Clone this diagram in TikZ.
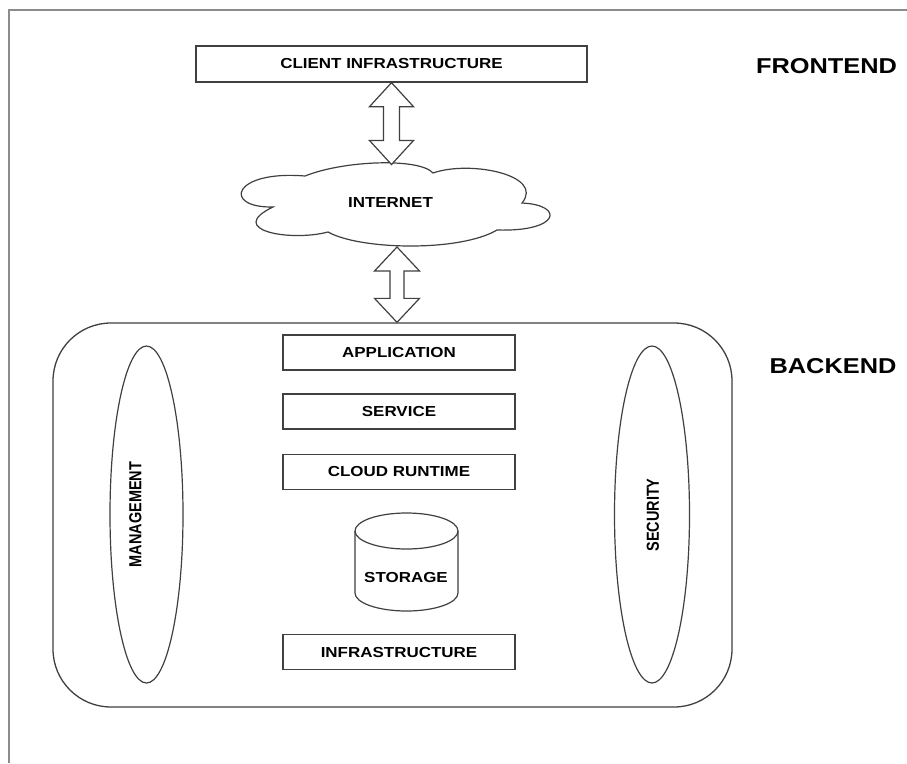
\documentclass[tikz,border=0pt]{standalone}
\usepackage{fontspec}
\usepackage{graphicx}
\setmainfont{Liberation Sans}
\newfontfamily\lblfont[FakeStretch=1.17]{Liberation Sans}
\newfontfamily\bigfont[FakeStretch=1.18]{Liberation Sans}
\usetikzlibrary{shapes.geometric,calc}
\definecolor{linec}{HTML}{404040}
\definecolor{framec}{HTML}{8C8C8C}
\newcommand\dblarr[5]{\draw[arrowline] let \p1=(#1), \p2=(#2) in
 (\p1) -- (\x1+#3,\y1-#4) -- (\x1+#5,\y1-#4) -- (\x1+#5,\y2+#4) -- (\x1+#3,\y2+#4)
 -- (\x1,\y2) -- (\x1-#3,\y2+#4) -- (\x1-#5,\y2+#4) -- (\x1-#5,\y1-#4) -- (\x1-#3,\y1-#4) -- cycle;}
\begin{document}
\begin{tikzpicture}[x=1pt,y=-1pt,
  lbl/.style={font=\lblfont\bfseries\fontsize{14.5}{16}\selectfont, text=black, inner sep=0pt},
  rlbl/.style={font=\fontsize{14.5}{16}\selectfont\bfseries, text=black, inner sep=0pt, rotate=90},
  big/.style={font=\bigfont\bfseries\fontsize{21.5}{24}\selectfont, text=black, inner sep=0pt},
  box/.style={draw=linec, line width=1.3pt, minimum width=232pt, minimum height=35pt, inner sep=0pt, lbl},
  shapeline/.style={draw=linec, line width=1.2pt},
  arrowline/.style={draw=linec, line width=1.2pt, fill=white, line join=miter},
  oval/.style={ellipse, draw=linec, line width=1.2pt, minimum width=73pt, minimum height=337pt, inner sep=0pt}]
\useasboundingbox (0,0) rectangle (907,763);
\fill[white] (0,0) rectangle (907,763);
% frame
\draw[framec, line width=1.5pt] (9,763) -- (9,10) -- (907,10);

% frontend
\node[box, minimum width=391pt, minimum height=36pt] (client) at (391.5,64) {CLIENT INFRASTRUCTURE};
\node[big] (frontend) at (826.5,66) {FRONTEND};

% cloud
\draw[shapeline] (273,207) .. controls (222,208) and (232,170) .. (305,176)
  .. controls (345,160) and (420,158) .. (433,173)
  .. controls (470,160) and (545,175) .. (522,203)
  .. controls (565,205) and (560,232) .. (497,230)
  .. controls (460,252) and (360,250) .. (328,232)
  .. controls (290,242) and (225,230) .. (273,207) -- cycle;
\node[lbl] (internet) at (390.5,203) {INTERNET};
\coordinate (cloudN) at (391.5,164.5);
\coordinate (cloudS) at (397,247);

% backend
\node[draw=linec, line width=1.3pt, rounded corners=58pt, minimum width=679pt, minimum height=384pt, inner sep=0pt] (backend) at (392.5,515) {};
\coordinate (backendN) at ($(backend.north)+(4.5,0)$);
\node[big] (backendlbl) at (833,366) {BACKEND};

% double arrows
\dblarr{client.south}{cloudN}{22pt}{24pt}{8pt}
\dblarr{cloudS}{backendN}{22.5pt}{24pt}{7pt}

% layers
\node[box] (app) at (399,352.5) {APPLICATION};
\node[box] (service) at (399,411.5) {SERVICE};
\node[box] (runtime) at (399,472) {CLOUD RUNTIME};
\node[box] (infra) at (399,652) {INFRASTRUCTURE};

% storage cylinder
\draw[shapeline] (406.5,531) ellipse [x radius=51.5, y radius=18];
\draw[shapeline] (355,531) -- (355,593) arc[start angle=180, end angle=0, x radius=51.5, y radius=18] -- (458,531);
\node[lbl] (storage) at (406,577.5) {STORAGE};

% management / security
\node[oval] (mgmt) at (146.5,514.5) {};
\node[rlbl] (mgmtlbl) at (135.5,514.5) {\scalebox{1}[1.2]{MANAGEMENT}};
\node[oval, minimum width=75pt] (sec) at (652,514.5) {};
\node[rlbl] (seclbl) at (653,515) {\scalebox{1}[1.2]{SECURITY}};
\end{tikzpicture}
\end{document}
